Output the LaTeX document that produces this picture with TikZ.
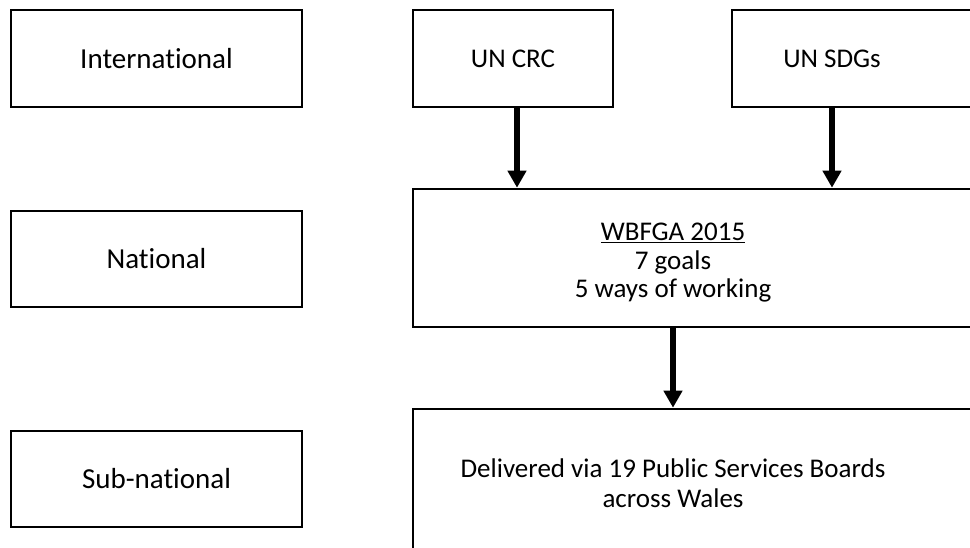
\documentclass[tikz,border=0pt]{standalone}
\usepackage{fontspec}
\setmainfont{Carlito}[Ligatures=NoCommon]
\usetikzlibrary{arrows.meta}
\begin{document}
\begin{tikzpicture}[x=1pt,y=-1pt,
  box/.style={draw, line width=2.6pt, rectangle, inner sep=0pt},
  lbl/.style={font=\fontsize{27}{28.5}\selectfont, align=center, inner sep=0pt},
  lbll/.style={font=\fontsize{29}{30}\selectfont, align=center, inner sep=0pt},
  arr/.style={line width=5.5pt, -{Triangle[width=18pt,length=17pt]}}]
\useasboundingbox (0,0) rectangle (970,547);
\clip (0,0) rectangle (970,547);
% left column
\node[box, minimum width=291pt, minimum height=97pt] (intl) at (156.5,58.5) {};
\node[lbll] (intlt) at (intl.center) {International};
\node[box, minimum width=291pt, minimum height=96pt] (natl) at (156.5,259) {};
\node[lbll] (natlt) at (natl.center) {National};
\node[box, minimum width=291pt, minimum height=96pt] (subn) at (156.5,479) {};
\node[lbll] (subnt) at (subn.center) {Sub-national};
% right column
\node[box, minimum width=200pt, minimum height=97pt] (crc) at (513,58.5) {};
\node[lbl] (crct) at (crc.center) {UN CRC};
\node[box, minimum width=268pt, minimum height=97pt] (sdg) at (866,58.5) {};
\node[lbl] (sdgt) at (832,58.5) {UN SDGs};
\node[box, minimum width=587pt, minimum height=138pt] (wb) at (706.5,258) {};
\node[lbl] (wbt) at (673,263) {\underline{WBFGA 2015}\\7 goals\\5 ways of working};
\node[box, minimum width=587pt, minimum height=191pt] (del) at (706.5,504.5) {};
\node[lbl, font=\fontsize{27}{30}\selectfont] (delt) at (673,483) {Delivered via 19 Public Services Boards\\across Wales};
% arrows
\draw[arr] ([xshift=4pt]crc.south) -- ([xshift=4pt]crc.south |- wb.north);
\draw[arr] (sdgt |- sdg.south) -- (sdgt |- wb.north);
\draw[arr] (wbt |- wb.south) -- (wbt |- del.north);
\end{tikzpicture}
\end{document}
